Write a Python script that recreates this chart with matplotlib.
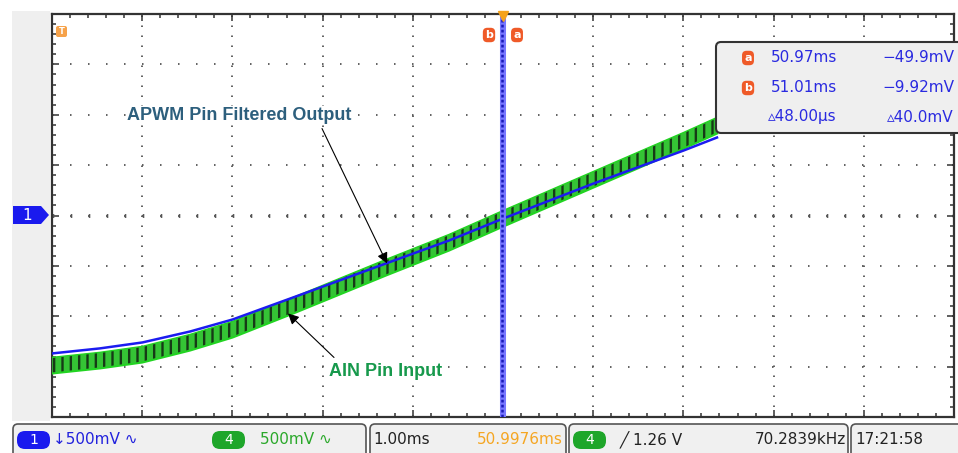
import numpy as np
import matplotlib.pyplot as plt
from matplotlib.ticker import MultipleLocator
from matplotlib.patches import FancyBboxPatch, Polygon, Rectangle

plt.rcParams['lines.scale_dashes'] = False
plt.rcParams['hatch.linewidth'] = 1.7

# screen readings: time in ms, volts (500 mV/div, 1 ms/div)
t_ms = [46.0, 46.53, 47.0, 47.53, 48.0, 48.7, 49.7, 50.4, 51.0, 52.0, 53.0, 53.37]
apwm_v = [-1.369, -1.319, -1.260, -1.151, -1.032, -0.804, -0.476, -0.248, -0.030, 0.317, 0.645, 0.774]
ain_v = [-1.488, -1.438, -1.379, -1.260, -1.131, -0.883, -0.516, -0.268, -0.030, 0.357, 0.744, 0.893]
ain_ripple = 0.08

t_center = 50.9976
cursor_a = 50.97
cursor_b = 51.01
meas_icons = ['a', 'b', '']
meas_time = ['50.97ms', '51.01ms', '\u25b548.00\u00b5s']
meas_volt = ['\u221249.9mV', '\u22129.92mV', '\u25b540.0mV']

fig = plt.figure(figsize=(9.58, 4.53), dpi=100)
ax = fig.add_axes([52 / 958, 36 / 453, 902 / 958, 403 / 453])
ax.set_xlim(t_center - 5, t_center + 5)
ax.set_ylim(-2, 2)
ax.xaxis.set_major_locator(MultipleLocator(1, offset=t_center % 1))
ax.xaxis.set_minor_locator(MultipleLocator(0.2, offset=t_center % 0.2))
ax.yaxis.set_major_locator(MultipleLocator(0.5))
ax.yaxis.set_minor_locator(MultipleLocator(0.1))
ax.tick_params(which='both', direction='in', top=True, right=True,
               labelbottom=False, labelleft=False, color='#333', width=1.1)
ax.tick_params(which='major', length=5)
ax.tick_params(which='minor', length=3.2)
for s in ax.spines.values():
    s.set_color('#333')
    s.set_linewidth(1.6)

# dotted scope graticule
ax.xaxis.grid(True, color='#555', lw=1.3, ls=(0, (1.1, 6.1)))
ax.yaxis.grid(True, color='#555', lw=1.3, ls=(0, (1.1, 11.86)))
ax.axhline(0, color='#555', lw=2.8, ls=(12.4, (1.1, 11.86)), dash_capstyle='butt')
ax.axvline(t_center, color='#555', lw=2.8, ls=(6.65, (1.1, 6.1)), dash_capstyle='butt')

# traces
lo = np.array(ain_v) - ain_ripple
hi = np.array(ain_v) + ain_ripple
ax.fill_between(t_ms, lo, hi, facecolor='#35c435', edgecolor='#163a16', hatch='||',
                linewidth=0, zorder=3)
ax.plot(t_ms, lo, color='#22d422', lw=1.5, zorder=3)
ax.plot(t_ms, hi, color='#22d422', lw=1.0, zorder=3)
ax.plot(t_ms, apwm_v, color='#1c1cf0', lw=1.8, zorder=4)

# cursors
ax.axvspan(cursor_a, cursor_b, color='#a9a9ff', lw=0, zorder=5)
ax.axvline(cursor_a, color='#7878ff', lw=2.2, zorder=5)
ax.axvline(cursor_b, color='#7878ff', lw=2.2, zorder=5)
ax.axvline((cursor_a + cursor_b) / 2, color='#1a1ab8', lw=1.8, ls=(0, (2, 1.6)), zorder=5)

# annotations
arrow = dict(arrowstyle='-|>', color='black', lw=0.8, mutation_scale=16, shrinkA=0, shrinkB=0)
label_bg = dict(boxstyle='square,pad=0.05', fc='white', ec='none')
ax.annotate('', xy=(49.712, -0.476), xytext=(48.991, 0.863), arrowprops=arrow, zorder=6)
ax.annotate('', xy=(48.614, -0.972), xytext=(49.124, -1.409), arrowprops=arrow, zorder=6)
ax.text(48.071, 0.99, 'APWM Pin Filtered Output', color='#2d5f7d', fontsize=13,
        fontweight='bold', family='Liberation Sans', ha='center', va='center',
        bbox=label_bg, zorder=6)
ax.text(49.70, -1.548, 'AIN Pin Input', color='#17994c', fontsize=13,
        fontweight='bold', family='Liberation Sans', ha='center', va='center',
        bbox=label_bg, zorder=6)

# screen chrome in pixel coordinates
ov = fig.add_axes([0, 0, 1, 1])
ov.set_xlim(0, 958)
ov.set_ylim(453, 0)
ov.axis('off')

ov.add_patch(Rectangle((12, 11), 38, 410, fc='#efefef', ec='none'))
ov.add_patch(Polygon([(13, 206), (41, 206), (49, 215), (41, 224), (13, 224)], fc='#1a1aee', ec='none'))
ov.text(27, 215, '1', color='white', fontsize=11, ha='center', va='center')

ov.add_patch(FancyBboxPatch((56, 26), 11, 11, boxstyle='round,pad=0,rounding_size=2', fc='#f6a24a', ec='none'))
ov.text(61.5, 31.5, 'T', color='white', fontsize=6, fontweight='bold', ha='center', va='center')
ov.plot(503, 16, marker='v', ms=7, color='#f5a21b', clip_on=False)

orange_tag = dict(boxstyle='round,pad=0.2,rounding_size=0.4', fc='#ef5a28', ec='none')
ov.text(489, 35, 'b', color='white', fontsize=8, fontweight='bold', ha='center', va='center', bbox=orange_tag)
ov.text(517, 35, 'a', color='white', fontsize=8, fontweight='bold', ha='center', va='center', bbox=orange_tag)

# measurement panel
ov.add_patch(FancyBboxPatch((716, 42), 260, 91, boxstyle='round,pad=0,rounding_size=5',
                            fc='#efefef', ec='#333', lw=1.5))
for i, y in enumerate([58, 88, 117]):
    if meas_icons[i]:
        ov.text(748, y, meas_icons[i], color='white', fontsize=8, fontweight='bold',
                ha='center', va='center', bbox=orange_tag)
    ov.text(771 if i < 2 else 768, y, meas_time[i], color='#2a2ae0', fontsize=11, ha='left', va='center')
    ov.text(954, y, meas_volt[i], color='#2a2ae0', fontsize=11, ha='right', va='center')

# status bar
for x0, x1 in [(13, 366), (370, 566), (569, 848), (851, 975)]:
    ov.add_patch(FancyBboxPatch((x0, 424), x1 - x0, 40, boxstyle='round,pad=0,rounding_size=5',
                                fc='#f0f0f0', ec='#555', lw=1.2))
for x0, col, lab in [(17, '#1a1aee', '1'), (212, '#1ea62a', '4'), (573, '#1ea62a', '4')]:
    ov.add_patch(FancyBboxPatch((x0, 431), 33, 18, boxstyle='round,pad=0,rounding_size=8', fc=col, ec='none'))
    ov.text(x0 + 16.5, 440, lab, color='white', fontsize=10, ha='center', va='center')
ov.text(53, 440, '\u2193500mV \u223f', color='#2222dd', fontsize=11, ha='left', va='center')
ov.text(260, 440, '500mV \u223f', color='#2aa82a', fontsize=11, ha='left', va='center')
ov.text(373, 440, '1.00ms', color='#222', fontsize=11, ha='left', va='center')
ov.text(563, 440, '50.9976ms', color='#f5a623', fontsize=11, ha='right', va='center')
ov.text(620, 440, '\u2571 1.26 V', color='#222', fontsize=11, ha='left', va='center')
ov.text(846, 440, '70.2839kHz', color='#222', fontsize=11, ha='right', va='center')
ov.text(855, 440, '17:21:58', color='#222', fontsize=11, ha='left', va='center')

fig.savefig('out.png', dpi=100)
